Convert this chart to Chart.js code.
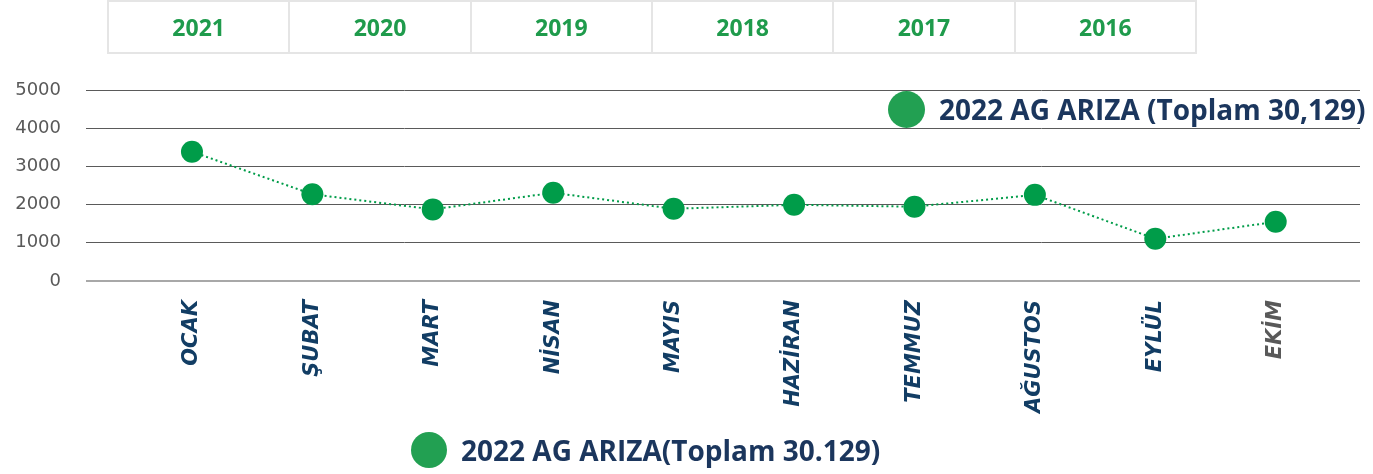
<!DOCTYPE html>
<html>
<head>
<meta charset="utf-8">
<script src="https://cdn.jsdelivr.net/npm/chart.js@4"></script>
<style>
body { margin: 0; background: #fff; }
#wrap { position: relative; width: 1373px; height: 474px; }
#tabs { position: absolute; left: 107px; top: 0; display: flex; border: 2px solid #e5e5e5; box-sizing: border-box; width: 1090px; height: 54px; }
.tab { flex: 1; border-left: 2px solid #e5e5e5; display: flex; align-items: center; justify-content: center;
  font: 700 23px "Open Sans"; color: #1f9b4c; }
.tab:first-child { border-left: none; }
.leg { position: absolute; display: flex; align-items: center; font: 700 28px "Open Sans"; color: #1b365d; white-space: nowrap; }
.dot { width: 37px; height: 37px; border-radius: 50%; background: #22a052; margin-right: 14px; }
</style>
</head>
<body>
<div id="wrap">
  <canvas id="myChart"></canvas>
  <div id="tabs"></div>
  <div class="leg" id="legTop" style="left:888px; top:90px;"><div class="dot"></div><span></span></div>
  <div class="leg" id="legBottom" style="left:411px; top:431px;"><div class="dot" style="width:36px;height:36px;"></div><span></span></div>
</div>
<script>
const years = ['2021', '2020', '2019', '2018', '2017', '2016'];
const months = ['OCAK', 'ŞUBAT', 'MART', 'NİSAN', 'MAYIS', 'HAZİRAN', 'TEMMUZ', 'AĞUSTOS', 'EYLÜL', 'EKİM'];
const faults = [3385, 2270, 1875, 2310, 1890, 1995, 1945, 2255, 1105, 1550];
const yTicks = [0, 1000, 2000, 3000, 4000, 5000];
const seriesLabel = '2022 AG ARIZA(Toplam 30.129)';
const boxLabel = '2022 AG ARIZA (Toplam 30,129)';

// year tabs and the two legend texts
years.forEach(function (y) {
	const d = document.createElement('div');
	d.className = 'tab';
	d.textContent = y;
	document.getElementById('tabs').appendChild(d);
});
document.querySelector('#legTop span').textContent = boxLabel;
document.querySelector('#legBottom span').textContent = seriesLabel;

const ctx = document.getElementById('myChart');

new Chart(ctx, {
	type: 'line',
	data: {
		datasets: [{
			label: seriesLabel,
			data: faults.map((v, i) => ({ x: i, y: v })),
			borderColor: '#009c49',
			borderWidth: 2,
			borderDash: [2, 3],
			pointRadius: 11,
			pointHoverRadius: 11,
			pointBackgroundColor: '#009c49',
			pointBorderWidth: 0,
			tension: 0
		}]
	},
	options: {
		responsive: true,
		maintainAspectRatio: false,
		animation: false,
		layout: { padding: { top: 90, right: 13, left: 0, bottom: 0 } },
		plugins: { legend: { display: false }, tooltip: { enabled: false } },
		scales: {
			x: {
				type: 'linear',
				min: -0.88,
				max: 9.7,
				afterBuildTicks: s => { s.ticks = months.map((m, i) => ({ value: i })); },
				afterFit: s => { s.height = 193; },
				grid: { display: false },
				border: { display: false },
				ticks: {
					autoSkip: false,
					minRotation: 90,
					maxRotation: 90,
					padding: 11,
					callback: v => months[v],
					color: c => c.index === 9 ? '#595959' : '#123d64',
					font: { family: 'DejaVu Sans', size: 21, weight: 'bold', style: 'italic' }
				}
			},
			y: {
				min: 0,
				max: 5000,
				afterBuildTicks: s => { s.ticks = yTicks.map(v => ({ value: v })); },
				afterFit: s => { s.width = 86; },
				grid: {
					drawTicks: false,
					color: c => c.tick.value === 0 ? '#a8a8a8' : '#5a5a5a',
					lineWidth: c => c.tick.value === 0 ? 2 : 1
				},
				border: { display: false },
				ticks: { padding: 25, color: '#595959', font: { family: 'DejaVu Sans', size: 18 }, callback: v => String(v) }
			}
		}
	}
});
</script>
</body>
</html>
